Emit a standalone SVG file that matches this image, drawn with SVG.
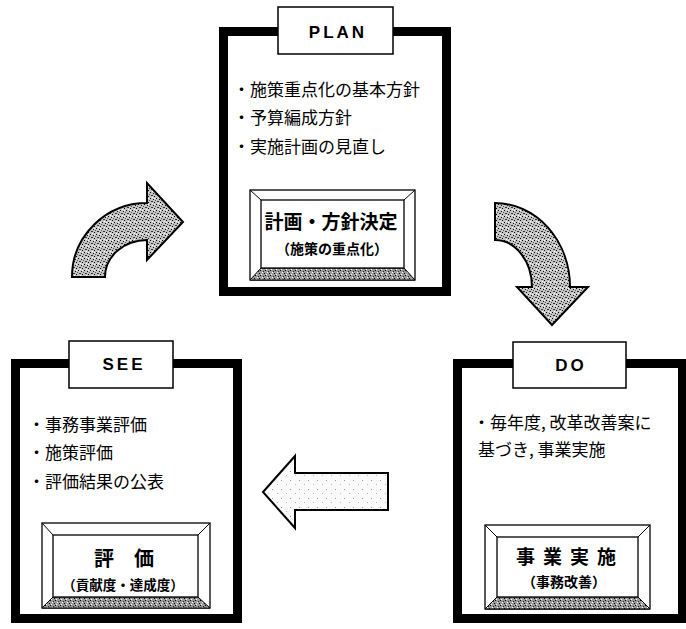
<svg xmlns="http://www.w3.org/2000/svg" width="686" height="629" viewBox="0 0 686 629">
<defs>
<pattern id="stipple" width="6" height="6" patternUnits="userSpaceOnUse">
<rect width="6" height="6" fill="#c4c4c4"/>
<rect x="0" y="0" width="1" height="1" fill="#000"/>
<rect x="3" y="1" width="1" height="1" fill="#111"/>
<rect x="1" y="3" width="2" height="1" fill="#333"/>
<rect x="4" y="4" width="1" height="1" fill="#000"/>
<rect x="5" y="2" width="1" height="1" fill="#555"/>
<rect x="2" y="5" width="1" height="1" fill="#fff"/>
<rect x="4" y="0" width="1" height="1" fill="#fff"/>
</pattern>
<pattern id="stippleDark" width="5" height="5" patternUnits="userSpaceOnUse">
<rect width="5" height="5" fill="#9a9a9a"/>
<rect x="0" y="0" width="1" height="1" fill="#000"/>
<rect x="2" y="2" width="1" height="1" fill="#fff"/>
<rect x="3" y="1" width="1" height="1" fill="#222"/>
<rect x="1" y="4" width="1" height="1" fill="#fff"/>
<rect x="4" y="3" width="1" height="1" fill="#000"/>
</pattern>
<pattern id="stippleLight" width="9" height="9" patternUnits="userSpaceOnUse">
<rect width="9" height="9" fill="#fafafa"/>
<rect x="2" y="3" width="1" height="1" fill="#999"/>
<rect x="7" y="7" width="1" height="1" fill="#bbb"/>
</pattern>
<style>
.frame{fill:#fff;stroke:#000;stroke-width:9}
.label{fill:#fff;stroke:#000;stroke-width:1.5}
.lbl{font-family:"Liberation Sans",Arial,sans-serif;font-weight:bold;font-size:17px;letter-spacing:3px;text-anchor:middle;fill:#000}
.item{font-family:"Noto Sans CJK JP","Noto Sans",sans-serif;font-size:17px;fill:#000}
.btnTitle{font-family:"Noto Sans CJK JP",sans-serif;font-weight:bold;font-size:19px;text-anchor:middle;fill:#000}
.btnSub{font-family:"Noto Sans CJK JP",sans-serif;font-weight:bold;font-size:14px;text-anchor:middle;fill:#000}
.bev{fill:#fff;stroke:#000;stroke-width:1.3}
.bevLine{stroke:#000;stroke-width:1;fill:none}
.bevBottom{fill:url(#stippleDark);stroke:#000;stroke-width:1}
.arrow{fill:url(#stipple);stroke:#000;stroke-width:2;stroke-linejoin:miter}
.arrowLight{fill:url(#stippleLight);stroke:#000;stroke-width:2}
</style>
</defs>
<rect width="686" height="629" fill="#fff"/>

<g id="connectors">
<path class="arrow" d="M 72 277 A 75 74 0 0 1 147 203 L 147 183 L 183 222 L 147 260 L 147 240 A 42 37 0 0 0 105 277 Z"/>
<path class="arrow" d="M 495 203 A 75 84 0 0 1 570 287 L 588 287 L 552 325 L 517 287 L 532 287 A 37 47 0 0 0 495 240 Z"/>
<path class="arrowLight" d="M 388 473 L 295 473 L 295 456 L 263 492 L 295 528 L 295 510 L 388 510 Z"/>
</g>

<g id="plan">
<rect class="frame" x="223.5" y="31.5" width="223" height="260"/>
<rect class="label" x="278" y="7" width="115" height="47"/>
<text class="lbl" x="338" y="38">PLAN</text>
<text class="item" x="233" y="96">・施策重点化の基本方針</text>
<text class="item" x="233" y="124">・予算編成方針</text>
<text class="item" x="233" y="153">・実施計画の見直し</text>
<g id="plan-button">
<rect class="bev" x="250" y="190" width="165" height="90"/>
<path class="bevBottom" d="M 250 280 L 261 268 L 404 268 L 415 280 Z"/>
<rect class="bev" x="261" y="200" width="143" height="68"/>
<path class="bevLine" d="M 250 190 L 261 200 M 415 190 L 404 200"/>
<text class="btnTitle" x="331" y="229">計画・方針決定</text>
<text class="btnSub" x="332" y="254">（施策の重点化）</text>
</g>
</g>

<g id="see">
<rect class="frame" x="15.5" y="363.5" width="222" height="255"/>
<rect class="label" x="69" y="341" width="104" height="47"/>
<text class="lbl" x="124" y="370">SEE</text>
<text class="item" x="28" y="431">・事務事業評価</text>
<text class="item" x="28" y="459">・施策評価</text>
<text class="item" x="28" y="488">・評価結果の公表</text>
<g id="see-button">
<rect class="bev" x="42" y="523" width="168" height="85"/>
<path class="bevBottom" d="M 42 608 L 53 597 L 198 597 L 210 608 Z"/>
<rect class="bev" x="53" y="535" width="145" height="62"/>
<path class="bevLine" d="M 42 523 L 53 535 M 210 523 L 198 535"/>
<text class="btnTitle" x="124" y="566" style="font-size:20px">評　価</text>
<text class="btnSub" x="123" y="590" style="font-size:13.5px">（貢献度・達成度）</text>
</g>
</g>

<g id="do">
<rect class="frame" x="457.5" y="363.5" width="225" height="255"/>
<rect class="label" x="513" y="342" width="113" height="46"/>
<text class="lbl" x="571" y="371">DO</text>
<text class="item" x="473" y="429">・毎年度, 改革改善案に</text>
<text class="item" x="478" y="456">基づき, 事業実施</text>
<g id="do-button">
<rect class="bev" x="485" y="525" width="165" height="84"/>
<path class="bevBottom" d="M 485 609 L 497 597 L 638 597 L 650 609 Z"/>
<rect class="bev" x="497" y="537" width="141" height="60"/>
<path class="bevLine" d="M 485 525 L 497 537 M 650 525 L 638 537"/>
<text class="btnTitle" x="570" y="564" style="letter-spacing:8px">事業実施</text>
<text class="btnSub" x="564" y="587">（事務改善）</text>
</g>
</g>
</svg>
